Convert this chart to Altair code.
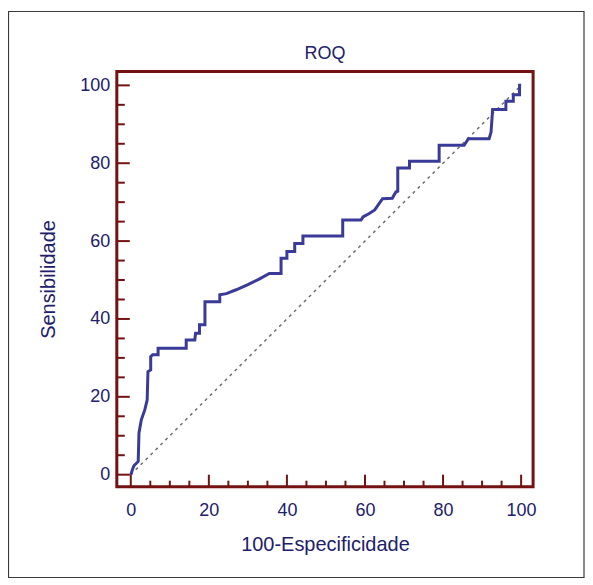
import altair as alt
import pandas as pd

# ROC curve vertices (100-Especificidade, Sensibilidade)
fpr = [0, 0.5, 0.8, 1.9, 2.1, 2.7, 3.6, 4.2, 4.4, 5.1, 5.1, 5.6, 7.0, 7.0, 14.2, 14.2,
       16.4, 16.6, 17.6, 17.6, 19.0, 19.0, 22.8, 22.8, 24.5, 27.0, 30.0, 33.0, 35.5,
       38.5, 38.5, 40.0, 40.0, 42.0, 42.0, 44.1, 44.1, 54.3, 54.3, 59.0, 59.5, 61.1,
       62.5, 64.5, 67.0, 67.9, 68.4, 68.4, 71.4, 71.4, 79.0, 79.0, 85.4, 86.5, 91.8,
       92.3, 92.7, 96.1, 96.1, 98.0, 98.0, 99.6, 99.6, 100.0]
sens = [0, 1.5, 2.3, 3.4, 10.7, 14.1, 16.7, 19.2, 26.5, 26.9, 30.3, 30.8, 30.8, 32.5,
        32.5, 34.6, 34.6, 36.3, 36.3, 38.5, 38.5, 44.4, 44.4, 46.2, 46.5, 47.5, 48.8,
        50.3, 51.7, 51.7, 55.6, 55.6, 57.3, 57.3, 59.4, 59.4, 61.3, 61.3, 65.4, 65.4,
        66.2, 67.1, 68.0, 70.9, 71.0, 72.6, 72.8, 78.8, 78.8, 80.5, 80.5, 84.6, 84.6,
        86.3, 86.3, 88.0, 93.8, 93.8, 95.9, 95.9, 97.6, 97.6, 100.0, 100.0]
diag_x = [0, 100]
diag_y = [0, 100]
major_ticks = [0, 20, 40, 60, 80, 100]
minor_ticks = [5, 10, 15, 25, 30, 35, 45, 50, 55, 65, 70, 75, 85, 90, 95]

NAVY = "#20206a"
RED = "#741212"
BLUE = "#3a3a98"
FONT = "Liberation Sans"

W, H = 417, 416

curve_df = pd.DataFrame({"x": fpr, "y": sens, "i": list(range(len(fpr)))})
diag_df = pd.DataFrame({"x": diag_x, "y": diag_y})
major_df = pd.DataFrame({"v": major_ticks})
minor_df = pd.DataFrame({"v": minor_ticks})
frame_df = pd.DataFrame({"k": [0]})

xscale = alt.Scale(domain=[-3.58, 103.07], nice=False, zero=False)
yscale = alt.Scale(domain=[-3.08, 103.59], nice=False, zero=False)

xaxis = alt.Axis(title="100-Especificidade", values=major_ticks, domain=False, ticks=False,
                 tickSize=0, grid=False, labelPadding=15, labelFontSize=18, labelColor=NAVY,
                 labelFont=FONT, titleFont=FONT, titleFontSize=20, titleFontWeight="normal",
                 titleColor=NAVY, titleX=W / 2, titleY=58, titleBaseline="middle",
                 titleAlign="center", format="d")
yaxis = alt.Axis(title="Sensibilidade", values=major_ticks, domain=False, ticks=False,
                 tickSize=0, grid=False, labelPadding=7, labelFontSize=18, labelColor=NAVY,
                 labelFont=FONT, titleFont=FONT, titleFontSize=20, titleFontWeight="normal",
                 titleColor=NAVY, titleX=-68, titleY=H / 2, titleBaseline="middle",
                 titleAlign="center", titleAngle=270, format="d")

X = alt.X("x:Q", scale=xscale, axis=xaxis)
Y = alt.Y("y:Q", scale=yscale, axis=yaxis)

diag = alt.Chart(diag_df).mark_line(color="#6e6e6e", strokeWidth=1.5, strokeDash=[3, 4]).encode(x=X, y=Y)

curve = alt.Chart(curve_df).mark_line(color=BLUE, strokeWidth=3, strokeJoin="miter").encode(
    x=X, y=Y, order=alt.Order("i:Q"))

left_major = alt.Chart(major_df).mark_rule(color=RED, strokeWidth=2).encode(
    y=alt.Y("v:Q", scale=yscale, axis=yaxis), x=alt.value(0), x2=alt.value(13))
left_minor = alt.Chart(minor_df).mark_rule(color=RED, strokeWidth=2).encode(
    y=alt.Y("v:Q", scale=yscale, axis=yaxis), x=alt.value(0), x2=alt.value(8))
bottom_major = alt.Chart(major_df).mark_rule(color=RED, strokeWidth=2).encode(
    x=alt.X("v:Q", scale=xscale, axis=xaxis), y=alt.value(H), y2=alt.value(H - 12))
bottom_minor = alt.Chart(minor_df).mark_rule(color=RED, strokeWidth=2).encode(
    x=alt.X("v:Q", scale=xscale, axis=xaxis), y=alt.value(H), y2=alt.value(H - 6))

outer = alt.Chart(frame_df).mark_rect(fillOpacity=0, stroke="#3a3a3a", strokeWidth=1.2).encode(
    x=alt.value(-108.5), x2=alt.value(468), y=alt.value(-60), y2=alt.value(507))

chart = alt.layer(outer, diag, curve, left_minor, left_major, bottom_minor, bottom_major).properties(
    width=W, height=H,
    title=alt.TitleParams("ROQ", fontSize=18, fontWeight="normal", color=NAVY, font=FONT,
                          anchor="middle", offset=10, dy=62),
    autosize=alt.AutoSizeParams(type="none"),
    padding={"left": 109, "top": 63, "right": 52, "bottom": 100},
).configure(background="white", view=alt.ViewConfig(stroke=RED, strokeWidth=3))

chart.save("out.html", embed_options={"renderer": "svg", "actions": False})
